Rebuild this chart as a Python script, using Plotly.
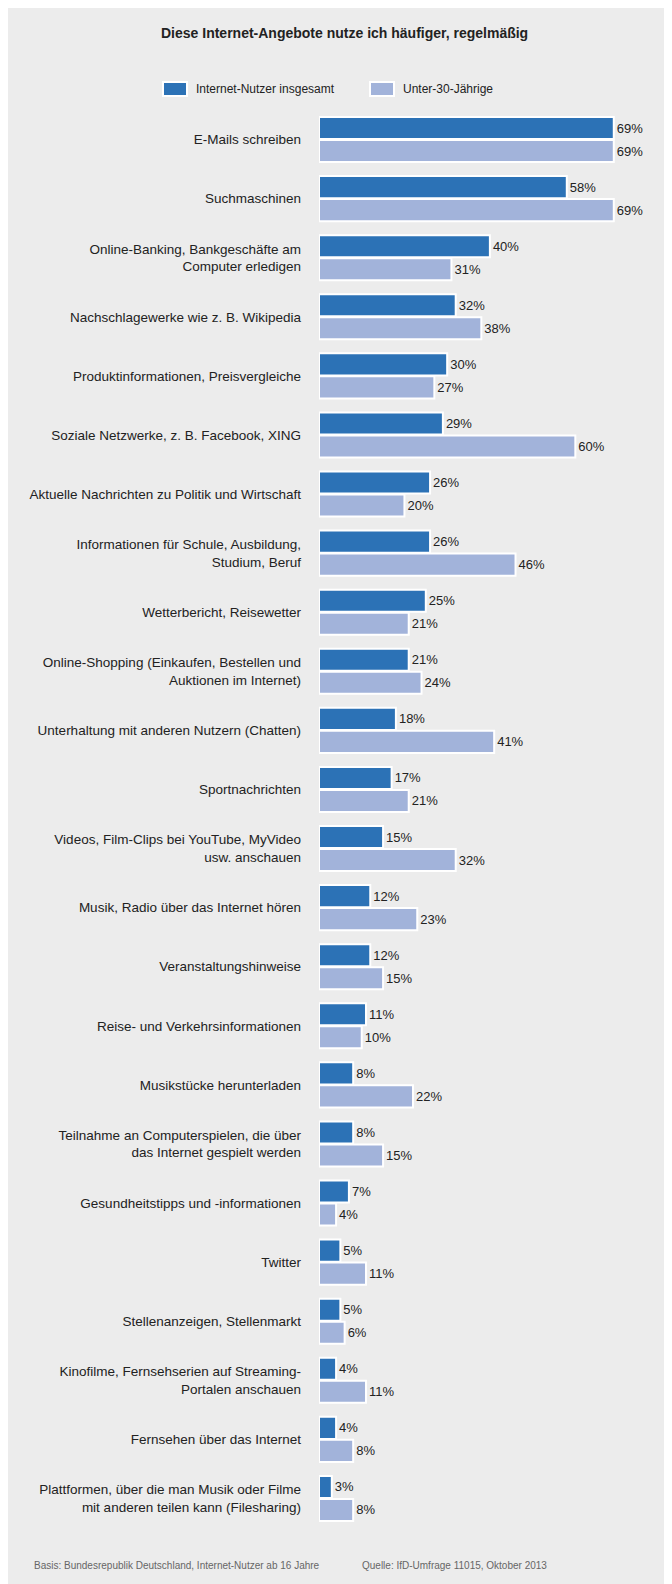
import plotly.graph_objects as go

categories = [
    "E-Mails schreiben", "Suchmaschinen",
    "Online-Banking, Bankgeschäfte am<br>Computer erledigen",
    "Nachschlagewerke wie z. B. Wikipedia",
    "Produktinformationen, Preisvergleiche",
    "Soziale Netzwerke, z. B. Facebook, XING",
    "Aktuelle Nachrichten zu Politik und Wirtschaft",
    "Informationen für Schule, Ausbildung,<br>Studium, Beruf",
    "Wetterbericht, Reisewetter",
    "Online-Shopping (Einkaufen, Bestellen und<br>Auktionen im Internet)",
    "Unterhaltung mit anderen Nutzern (Chatten)",
    "Sportnachrichten",
    "Videos, Film-Clips bei YouTube, MyVideo<br>usw. anschauen",
    "Musik, Radio über das Internet hören",
    "Veranstaltungshinweise",
    "Reise- und Verkehrsinformationen",
    "Musikstücke herunterladen",
    "Teilnahme an Computerspielen, die über<br>das Internet gespielt werden",
    "Gesundheitstipps und -informationen",
    "Twitter",
    "Stellenanzeigen, Stellenmarkt",
    "Kinofilme, Fernsehserien auf Streaming-<br>Portalen anschauen",
    "Fernsehen über das Internet",
    "Plattformen, über die man Musik oder Filme<br>mit anderen teilen kann (Filesharing)",
]
gesamt = [69, 58, 40, 32, 30, 29, 26, 26, 25, 21, 18, 17, 15, 12, 12, 11, 8, 8, 7, 5, 5, 4, 4, 3]
unter30 = [69, 69, 31, 38, 27, 60, 20, 46, 21, 24, 41, 21, 32, 23, 15, 10, 22, 15, 4, 11, 6, 11, 8, 8]
series_names = ["Internet-Nutzer insgesamt", "Unter-30-Jährige"]
colors = ["#2c72b6", "#a2b3da"]

fig = go.Figure()
for name, vals, c in zip(series_names, [gesamt, unter30], colors):
    fig.add_trace(go.Bar(
        y=categories, x=vals, name=name, orientation="h",
        marker=dict(color=c, line=dict(color="white", width=2)),
        text=[f"{v}%" for v in vals], textposition="outside",
        textfont=dict(size=13, color="#222"), cliponaxis=False,
    ))

W, H = 672, 1584
fig.update_layout(
    width=W, height=H, barmode="group", bargap=0.22, bargroupgap=0.04,
    margin=dict(l=311, r=0, t=102, b=64),
    paper_bgcolor="#ececec", plot_bgcolor="#ececec",
    font=dict(family="Liberation Sans, Arial, sans-serif", size=13, color="#222"),
    showlegend=False,
    xaxis=dict(range=[0, 84.5], visible=False, fixedrange=True),
    yaxis=dict(autorange="reversed", showgrid=False, ticks="", ticklabelstandoff=17,
               tickfont=dict(size=13.5, color="#222")),
)

def px(x): return (x - 311) / (W - 311)
def py(y): return (H - 64 - y) / (H - 102 - 64)

def ann(text, x, y, xanchor, size, color):
    fig.add_annotation(text=text, xref="paper", yref="paper", x=px(x), y=py(y),
                       xanchor=xanchor, yanchor="middle", showarrow=False,
                       font=dict(size=size, color=color))

ann("<b>Diese Internet-Angebote nutze ich häufiger, regelmäßig</b>", 336, 25, "center", 14, "#222")
for x0, name, c in [(155, series_names[0], colors[0]), (362, series_names[1], colors[1])]:
    fig.add_shape(type="rect", xref="paper", yref="paper", x0=px(x0), x1=px(x0 + 24),
                  y0=py(88), y1=py(74), fillcolor=c, line=dict(color="white", width=2))
    ann(name, x0 + 31, 81, "left", 12, "#222")
ann("Basis: Bundesrepublik Deutschland, Internet-Nutzer ab 16 Jahre", 24, 1557, "left", 10, "#666")
ann("Quelle: IfD-Umfrage 11015, Oktober 2013", 352, 1557, "left", 10, "#666")

fig.write_html("out.html")
